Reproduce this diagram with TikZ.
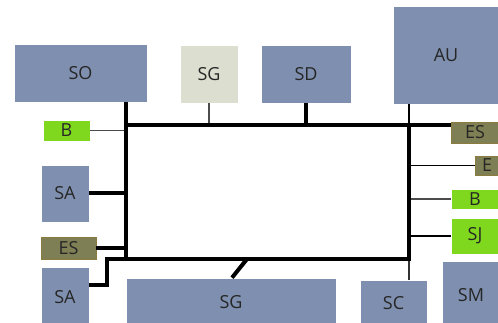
\documentclass[tikz,border=0pt]{standalone}
\usepackage{fontspec}
\setmainfont{Open Sans}
\begin{document}
\begin{tikzpicture}[x=1pt,y=-1pt,
  box/.style={draw=white,line width=0.6pt,fill=bluegray,inner sep=0pt,font=\fontsize{18}{18}\selectfont,text=black!85},
  grn/.style={box,fill=lgreen},
  olv/.style={box,fill=olive1,draw=olive2,line width=0.8pt},
  thick4/.style={line width=4pt,black},
  thin1/.style={line width=1.2pt,black!70}]
\definecolor{bluegray}{HTML}{7F8FAF}
\definecolor{lgreen}{HTML}{7FD81E}
\definecolor{olive1}{HTML}{7F7F55}
\definecolor{olive2}{HTML}{8B7B3F}
\definecolor{pale}{HTML}{DCDECF}
\useasboundingbox (0,0) rectangle (498,323);
% nodes
\node[box,minimum width=133pt,minimum height=58pt] (SO) at (80.5,73) {SO};
\node[box,fill=pale,minimum width=58pt,minimum height=58pt] (SGt) at (209,74) {SG};
\node[box,minimum width=90pt,minimum height=58pt] (SD) at (306,74) {SD};
\node[box,minimum width=106pt,minimum height=98pt] (AU) at (446,55) {AU};
\node[grn,minimum width=47pt,minimum height=21pt] (Bl) at (66.5,130.5) {B};
\node[olv,minimum width=47pt,minimum height=21pt] (ESr) at (475,132.5) {ES};
\node[olv,minimum width=24pt,minimum height=19pt] (E) at (487,165.5) {E};
\node[grn,minimum width=47pt,minimum height=20pt] (Br) at (475,199) {B};
\node[grn,minimum width=47pt,minimum height=36pt] (SJ) at (475,236) {SJ};
\node[box,minimum width=58pt,minimum height=68pt] (SM) at (471,295) {SM};
\node[box,minimum width=67pt,minimum height=46pt] (SC) at (393.5,303) {SC};
\node[box,minimum width=210pt,minimum height=48pt] (SGb) at (231,302) {SG};
\node[box,minimum width=48pt,minimum height=60pt] (SAb) at (65,297) {SA};
\node[box,minimum width=48pt,minimum height=57pt] (SAt) at (65,193.5) {SA};
\node[olv,minimum width=55pt,minimum height=22pt] (ESl) at (68.5,248) {ES};
% frame corners
\coordinate (TL) at (126,125);
\coordinate (TR) at (409,125);
\coordinate (BR) at (409,259);
\coordinate (BL) at (126,259);
\coordinate (jog) at (107,259);
% thin connectors
\draw[thin1] (Bl.east) -- (Bl.east -| TL);
\draw[thin1] (SGt.south) -- (SGt.south |- TL);
\draw[thin1,black] (AU.south -| TR) -- (TR);
\draw[thin1,black] (E.west) -- (E.west -| TR);
\draw[thin1] (Br.west) -- (Br.west -| TR);
\draw[thin1,black] (SJ.west) -- (SJ.west -| TR);
\draw[thin1,black!80] (BR) -- (BR |- SC.north);
% thick frame
\draw[thick4] (TL) -- (TR) -- (BR) -- (BL) -- cycle;
\draw[thick4] (SO.south -| TL) -- (BL);
\draw[thick4] (TR) -- (TR -| ESr.west);
\draw[thick4] (SD.south) -- (SD.south |- TL);
\draw[thick4] (SAt.east) -- (SAt.east -| TL);
\draw[thick4] (ESl.east) -- (ESl.east -| TL);
\draw[thick4] (SAb.east |- 0,285) -- (jog |- 0,285) -- (jog) -- (BL);
\draw[thick4] (SGb.north -| 232,0) -- (247,259);
\end{tikzpicture}
\end{document}
